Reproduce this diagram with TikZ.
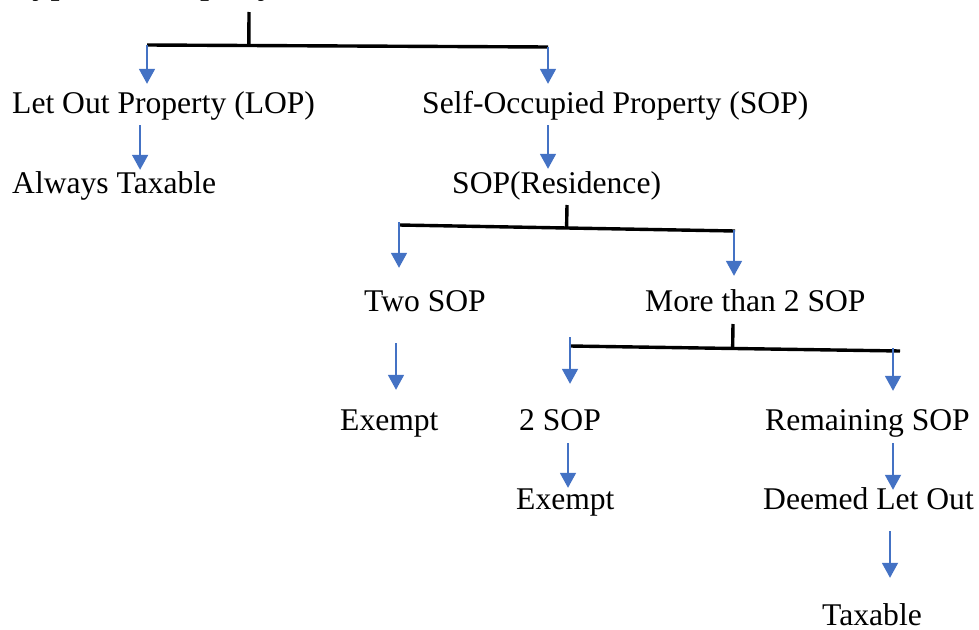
\documentclass[tikz,border=0pt]{standalone}
\usepackage{fontspec}
\setmainfont{Liberation Serif}
\usepackage{xcolor}
\usetikzlibrary{arrows.meta, calc}

\definecolor{arrowblue}{HTML}{4472C4}
\tikzset{
    lbl/.style={anchor=base west, inner sep=0pt, font=\fontsize{31.6}{36}\selectfont,
        text height=21pt, text depth=7pt},
    bar/.style={line width=3.4pt, black},
    arr/.style={draw=arrowblue, line width=1.8pt, -{Triangle[width=16pt, length=15pt]}},
}

\begin{document}
\begin{tikzpicture}[x=1pt, y=-1pt]
            \useasboundingbox (0,0) rectangle (979,629);
            \clip (0,0) rectangle (979,629);

            \node[lbl, font=\fontsize{36.9}{42}\selectfont] (title) at (12,-6) {Types of Property};
            \node[lbl] (lop) at (12,113) {Let Out Property (LOP)};
            \node[lbl] (sop) at (422,113) {Self-Occupied Property (SOP)};
            \node[lbl] (alw) at (12,193) {Always Taxable};
            \node[lbl] (res) at (452,193) {SOP(Residence)};
            \node[lbl] (two) at (364,311) {Two SOP};
            \node[lbl] (more) at (645,311) {More than 2 SOP};
            \node[lbl] (exa) at (340,430) {Exempt};
            \node[lbl] (twosop) at (519,430) {2 SOP};
            \node[lbl] (rem) at (765,430) {Remaining SOP};
            \node[lbl] (exb) at (516,509) {Exempt};
            \node[lbl] (deem) at (763,509) {Deemed Let Out};
            \node[lbl, text depth=1pt] (tax) at (822,625) {Taxable};

            \coordinate (s1) at (249,12);
            \coordinate (b1l) at (147,45);
            \coordinate (b1r) at (548,47);
            \coordinate (s2) at (567,205);
            \coordinate (b2l) at (399,225);
            \coordinate (b2r) at (734,231);
            \coordinate (s3) at (733,324);
            \coordinate (b3l) at (570,346);
            \coordinate (b3r) at (900,351);
            \coordinate (b3a) at ([xshift=-7pt]b3r);

            \draw[bar] (s1) -- ($(b1l)!(s1)!(b1r)$); % title
            \draw[bar] (b1l) -- (b1r);
            \draw[arr, shorten >=8pt] (b1l) -- (b1l |- lop.north); % LOP
            \draw[arr, shorten >=8pt] (b1r) -- (b1r |- sop.north); % SOP
            \draw[arr, shorten <=5pt, shorten >=2pt] ([xshift=-23.5pt]lop.south) -- ([xshift=-23.5pt]lop.south |- alw.north);
            \draw[arr, shorten <=5pt, shorten >=3pt] (b1r |- sop.south) -- (b1r |- res.north);

            \draw[bar] (s2) -- ($(b2l)!(s2)!(b2r)$); % residence
            \draw[bar] (b2l) -- ([xshift=1pt]b2r);
            \draw[arr, shorten <=-3pt, shorten >=22pt] (b2l) -- (b2l |- two.north);
            \draw[arr, shorten <=-1pt, shorten >=14pt] (b2r) -- (b2r |- more.north);
            \draw[arr, shorten <=25pt, shorten >=19pt] ([xshift=-3pt]b2l |- two.south) -- ([xshift=-3pt]b2l |- exa.north);

            \draw[bar] (s3) -- ($(b3l)!(s3)!(b3r)$); % more than 2
            \draw[bar] (b3l) -- (b3r);
            \draw[arr, shorten <=-9pt, shorten >=25pt] (b3l) -- (b3l |- twosop.north);
            \draw[arr, shorten <=-3pt, shorten >=18pt] (b3a) -- (b3a |- rem.north);
            \draw[arr, shorten <=6pt] ([xshift=-2pt]b3l |- twosop.south) -- ([xshift=-2pt]b3l |- exb.north);
            \draw[arr, shorten <=6pt, shorten >=-2pt] (b3a |- rem.south) -- (b3a |- deem.north);
            \draw[arr, shorten <=15pt, shorten >=26pt] ([xshift=-3pt]b3a |- deem.south) -- ([xshift=-3pt]b3a |- tax.north);
\end{tikzpicture}
\end{document}
